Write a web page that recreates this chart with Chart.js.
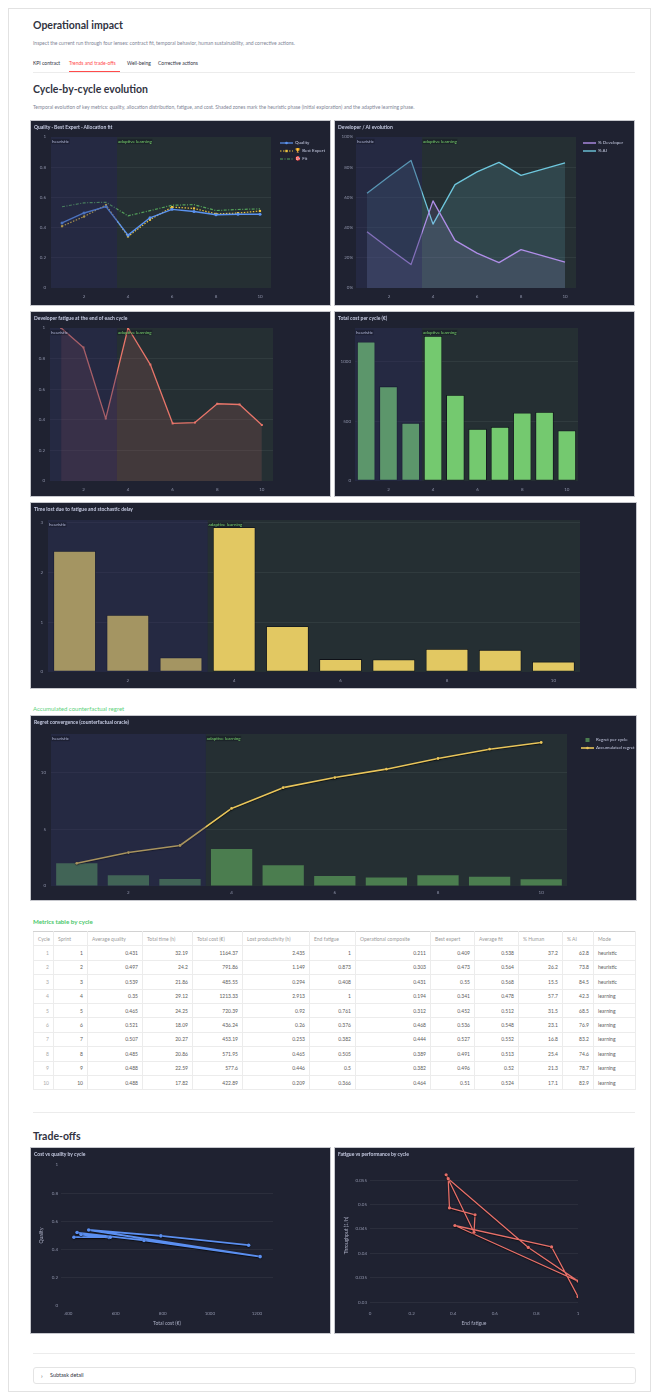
<!DOCTYPE html>
<html>
<head>
<meta charset="utf-8">
<script src="https://cdn.jsdelivr.net/npm/chart.js@4.4.1/dist/chart.umd.min.js"></script>
<style>
  body { margin: 0; background: #fff; font-family: Lato, "Noto Sans", sans-serif; }
  #page { position: relative; width: 658px; height: 1399px; overflow: hidden; }
  .frame { position: absolute; left: 8px; top: 8px; width: 641px; height: 1382px; border: 1px solid #e2e2e2; }
  .txt { position: absolute; white-space: nowrap; line-height: 1; color: #31333f; }
  .h1 { font-size: 10.5px; font-weight: 700; }
  .sub { font-size: 5px; color: #808495; }
  .tab { font-size: 5px; }
  .rule { position: absolute; height: 1px; background: #ececec; }
  .box { position: absolute; background: #1f2231; box-shadow: 0 0 0 1px #c6c7cd; }
  .box canvas { position: absolute; left: 0; top: 0; }
  .ctitle { position: absolute; left: 3px; top: 4px; font-size: 5px; font-weight: 700; color: #c6cbe2; white-space: nowrap; line-height: 1; }
  .legend { position: absolute; font-size: 4.5px; color: #c6cbe2; line-height: 1; }
  .legend div { height: 8px; display: flex; align-items: center; white-space: nowrap; }
  .legend svg { margin-right: 2px; }
  #metrics { position: absolute; left: 33px; top: 931px; width: 602px; border-collapse: collapse; table-layout: fixed; font-size: 5px; color: #5c5c5c; }
  #metrics th, #metrics td { border: 1px solid #ececec; padding: 0 4px; overflow: hidden; white-space: nowrap; }
  #metrics th { font-weight: 400; color: #9a9a9a; text-align: left; border-top: 1.5px solid #d2d2d2; }
  #metrics tr { height: 14.4px; }
  #metrics td { text-align: right; }
  #metrics td.idx { color: #aaa; }
  #metrics td.mode { text-align: left; }
  .expander { position: absolute; left: 33px; top: 1367px; width: 601px; height: 15px; border: 1px solid #e4e4e4; border-radius: 3px; }
</style>
</head>
<body>
<div id="page">
  <div class="frame"></div>

  <div class="txt h1" style="left:33px;top:20px;">Operational impact</div>
  <div class="txt sub" style="left:33px;top:41px;">Inspect the current run through four lenses: contract fit, temporal behavior, human sustainability, and corrective actions.</div>
  <div class="txt tab" style="left:33px;top:60.5px;">KPI contract</div>
  <div class="txt tab" style="left:69px;top:60.5px;color:#ff4b4b;">Trends and trade-offs</div>
  <div class="txt tab" style="left:127px;top:60.5px;">Well-being</div>
  <div class="txt tab" style="left:158px;top:60.5px;">Corrective actions</div>
  <div class="rule" style="left:33px;top:72px;width:602px;"></div>
  <div class="rule" style="left:69px;top:70.5px;width:51px;height:1.5px;background:#ff4b4b;"></div>

  <div class="txt h1" style="left:33px;top:84px;">Cycle-by-cycle evolution</div>
  <div class="txt sub" style="left:33px;top:105px;">Temporal evolution of key metrics: quality, allocation distribution, fatigue, and cost. Shaded zones mark the heuristic phase (initial exploration) and the adaptive learning phase.</div>

  <div class="box" style="left:31px;top:121px;width:299px;height:184px;">
    <canvas id="cQuality" width="299" height="184"></canvas>
    <div class="ctitle">Quality · Best Expert · Allocation fit</div>
    <div class="legend" style="left:249px;top:18px;">
      <div><svg width="13" height="4"><line x1="0" y1="2" x2="13" y2="2" stroke="#5b93f0" stroke-width="1.2"/><circle cx="6.5" cy="2" r="1.3" fill="#5b93f0"/></svg>Quality</div>
      <div><svg width="13" height="4"><line x1="0" y1="2" x2="13" y2="2" stroke="#e9c23f" stroke-width="1.2" stroke-dasharray="1.5 1.5"/><rect x="5.3" y="0.8" width="2.4" height="2.4" fill="#e9c23f"/></svg>🏆 Best Expert</div>
      <div><svg width="13" height="4"><line x1="0" y1="2" x2="13" y2="2" stroke="#55a35a" stroke-width="1.2" stroke-dasharray="3 1.5 1 1.5"/></svg>🎯 Fit</div>
    </div>
  </div>

  <div class="box" style="left:335px;top:121px;width:299px;height:184px;">
    <canvas id="cShare" width="299" height="184"></canvas>
    <div class="ctitle">Developer / AI evolution</div>
    <div class="legend" style="left:248px;top:18px;">
      <div><svg width="13" height="4"><line x1="0" y1="2" x2="13" y2="2" stroke="#b08ee8" stroke-width="1.4"/></svg>% Developer</div>
      <div><svg width="13" height="4"><line x1="0" y1="2" x2="13" y2="2" stroke="#6fc8de" stroke-width="1.4"/></svg>% AI</div>
    </div>
  </div>

  <div class="box" style="left:31px;top:312px;width:299px;height:184px;">
    <canvas id="cFatigue" width="299" height="184"></canvas>
    <div class="ctitle">Developer fatigue at the end of each cycle</div>
  </div>

  <div class="box" style="left:335px;top:312px;width:299px;height:184px;">
    <canvas id="cCost" width="299" height="184"></canvas>
    <div class="ctitle">Total cost per cycle (€)</div>
  </div>

  <div class="box" style="left:31px;top:503px;width:605px;height:185px;">
    <canvas id="cLost" width="605" height="185"></canvas>
    <div class="ctitle">Time lost due to fatigue and stochastic delay</div>
  </div>

  <div class="txt" style="left:33px;top:706px;font-size:6px;color:#5cd27c;">Accumulated counterfactual regret</div>

  <div class="box" style="left:31px;top:716px;width:605px;height:184px;">
    <canvas id="cRegret" width="605" height="184"></canvas>
    <div class="ctitle">Regret convergence (counterfactual oracle)</div>
    <div class="legend" style="left:550px;top:20px;">
      <div><svg width="13" height="4"><rect x="4.5" y="0" width="4" height="4" fill="#4b7d4f"/></svg>Regret per cycle</div>
      <div><svg width="13" height="4"><line x1="0" y1="2" x2="13" y2="2" stroke="#e9c65c" stroke-width="1.6"/><circle cx="6.5" cy="2" r="1.3" fill="#e9c65c"/></svg>Accumulated regret</div>
    </div>
  </div>

  <div class="txt" style="left:33px;top:919px;font-size:6.2px;font-weight:700;color:#4cc86c;">Metrics table by cycle</div>
  <table id="metrics"></table>

  <div class="rule" style="left:33px;top:1112px;width:602px;"></div>
  <div class="txt h1" style="left:33px;top:1131px;">Trade-offs</div>

  <div class="box" style="left:31px;top:1148px;width:299px;height:185px;">
    <canvas id="cCostQuality" width="299" height="185"></canvas>
    <div class="ctitle">Cost vs quality by cycle</div>
  </div>

  <div class="box" style="left:335px;top:1148px;width:299px;height:185px;">
    <canvas id="cFatiguePerf" width="299" height="185"></canvas>
    <div class="ctitle">Fatigue vs performance by cycle</div>
  </div>

  <div class="rule" style="left:33px;top:1353px;width:602px;"></div>
  <div class="expander">
    <div class="txt" style="left:7px;top:4.5px;font-size:6px;color:#555;">›</div>
    <div class="txt" style="left:16px;top:5px;font-size:5.5px;">Subtask detail</div>
  </div>
</div>

<script>
// values per cycle, as shown in the metrics table
const cycles = [1, 2, 3, 4, 5, 6, 7, 8, 9, 10];
const sprints = [1, 2, 3, 4, 5, 6, 7, 8, 9, 10];
const avgQuality = [0.431, 0.497, 0.539, 0.35, 0.465, 0.521, 0.507, 0.485, 0.488, 0.488];
const totalTime = [32.19, 24.2, 21.86, 29.12, 24.25, 18.09, 20.27, 20.86, 22.59, 17.82];
const totalCost = [1164.37, 791.86, 485.55, 1213.33, 720.39, 436.24, 453.19, 571.95, 577.6, 422.89];
const lostProductivity = [2.435, 1.149, 0.294, 2.913, 0.92, 0.26, 0.253, 0.465, 0.446, 0.209];
const endFatigue = [1, 0.873, 0.408, 1, 0.761, 0.376, 0.382, 0.505, 0.5, 0.366];
const operationalComposite = [0.211, 0.303, 0.431, 0.194, 0.312, 0.468, 0.444, 0.389, 0.382, 0.464];
const bestExpert = [0.409, 0.473, 0.55, 0.341, 0.452, 0.536, 0.527, 0.491, 0.496, 0.51];
const averageFit = [0.538, 0.564, 0.568, 0.478, 0.512, 0.548, 0.552, 0.513, 0.52, 0.524];
const pctHuman = [37.2, 26.2, 15.5, 57.7, 31.5, 23.1, 16.8, 25.4, 21.3, 17.1];
const pctAI = [62.8, 73.8, 84.5, 42.3, 68.5, 76.9, 83.2, 74.6, 78.7, 82.9];
const modes = ['heuristic', 'heuristic', 'heuristic', 'learning', 'learning', 'learning', 'learning', 'learning', 'learning', 'learning'];

const regretPerCycle = [2.0, 0.95, 0.62, 3.27, 1.83, 0.89, 0.74, 0.94, 0.82, 0.59];
const accumulatedRegret = [2.0, 2.95, 3.57, 6.84, 8.67, 9.56, 10.3, 11.24, 12.06, 12.65];
const throughput = [0.0311, 0.0413, 0.0457, 0.0343, 0.0412, 0.0553, 0.0493, 0.0479, 0.0443, 0.0561];

// tick labels
const cycleTicks = [2, 4, 6, 8, 10];
const unitTicks = [0, 0.2, 0.4, 0.6, 0.8, 1];
const shareTicks = [0, 20, 40, 60, 80, 100];
const costTicks = [0, 500, 1000];
const lostTicks = [0, 1, 2, 3];
const regretTicks = [0, 5, 10];
const costAxisTicks = [400, 600, 800, 1000, 1200];
const throughputTicks = [0.03, 0.035, 0.04, 0.045, 0.05, 0.055];

const tableColumns = ['Cycle', 'Sprint', 'Average quality', 'Total time (h)', 'Total cost (€)', 'Lost productivity (h)', 'End fatigue', 'Operational composite', 'Best expert', 'Average fit', '% Human', '% AI', 'Mode'];
const heuristicEnd = 3.5;

Chart.defaults.font.family = 'Lato, "Noto Sans", sans-serif';
const tickColor = '#8d92a8';
const gridColor = 'rgba(255,255,255,0.07)';

const pts = (xs, ys) => xs.map((x, i) => ({ x: x, y: ys[i] }));

// shaded phase zones, heuristic zone is laid over the marks like the original
const phaseBands = {
  id: 'phaseBands',
  beforeDraw(chart, args, opts) {
    if (!opts.enabled) return;
    const { ctx, chartArea: a } = chart;
    const sx = chart.scales.x.getPixelForValue(heuristicEnd);
    ctx.save();
    ctx.fillStyle = 'rgba(80,140,70,0.13)';
    ctx.fillRect(sx, a.top, a.right - sx, a.bottom - a.top);
    ctx.restore();
  },
  afterDatasetsDraw(chart, args, opts) {
    if (!opts.enabled) return;
    const { ctx, chartArea: a } = chart;
    const sx = chart.scales.x.getPixelForValue(heuristicEnd);
    ctx.save();
    ctx.fillStyle = 'rgba(50,55,100,0.35)';
    ctx.fillRect(a.left, a.top, sx - a.left, a.bottom - a.top);
    ctx.font = '4.5px Lato, "Noto Sans", sans-serif';
    ctx.textBaseline = 'middle';
    const label = (txt, x, color) => {
      const w = ctx.measureText(txt).width;
      const y = a.top + 4.5;
      ctx.fillStyle = 'rgba(15,17,26,0.35)';
      ctx.fillRect(x - 0.5, y - 2.6, w + 1, 5.2);
      ctx.fillStyle = color;
      ctx.fillText(txt, x, y);
    };
    label('heuristic', a.left + 1, '#b3b9d8');
    label('adaptive learning', sx + 1, '#78d46c');
    ctx.restore();
  }
};

// dark edge under the thicker lines
const lineEdge = {
  id: 'lineEdge',
  beforeDatasetDraw(chart, args) {
    if (!args.meta.dataset || !chart.data.datasets[args.index].edge) return;
    const ctx = chart.ctx;
    ctx.save();
    ctx.shadowColor = 'rgba(0,0,0,0.85)';
    ctx.shadowBlur = 1.2;
    ctx.shadowOffsetY = 0.6;
  },
  afterDatasetDraw(chart, args) {
    if (!args.meta.dataset || !chart.data.datasets[args.index].edge) return;
    chart.ctx.restore();
  }
};

function gridNoEdges(ctx) {
  const s = ctx.scale;
  if (!ctx.tick) return gridColor;
  const v = ctx.tick.value;
  return (Math.abs(v - s.min) < 1e-9 || Math.abs(v - s.max) < 1e-9) ? 'rgba(0,0,0,0)' : gridColor;
}

function buildChart(id, spec) {
  return new Chart(document.getElementById(id), {
    type: spec.type,
    data: { datasets: spec.datasets },
    options: {
      responsive: false,
      animation: false,
      devicePixelRatio: 1,
      layout: { padding: { left: 0, right: spec.right, top: spec.top, bottom: 0 } },
      plugins: {
        legend: { display: false },
        tooltip: { enabled: false },
        phaseBands: { enabled: spec.bands !== false }
      },
      scales: {
        x: {
          type: 'linear',
          min: spec.xMin, max: spec.xMax,
          offset: false,
          grid: { display: false, drawTicks: false },
          border: { display: false },
          ticks: { color: tickColor, font: { size: 4.5 }, padding: spec.xPad || 5.5, maxRotation: 0, autoSkip: false, callback: v => String(v) },
          title: spec.xTitle
            ? { display: true, text: spec.xTitle, color: '#a9adc2', font: { size: 5 }, padding: { top: 7, bottom: 7 } }
            : { display: false },
          afterBuildTicks: s => { s.ticks = spec.xTicks.map(v => ({ value: v })); },
          afterFit: s => { s.height = spec.xHeight; }
        },
        y: {
          type: 'linear',
          min: spec.yMin, max: spec.yMax,
          grid: { color: gridNoEdges, drawTicks: false, lineWidth: 0.8 },
          border: { display: false },
          ticks: { color: tickColor, font: { size: 4.5 }, padding: spec.yPad || 5, callback: spec.yFmt || (v => String(v)) },
          title: spec.yTitle
            ? { display: true, text: spec.yTitle, color: '#a9adc2', font: { size: 5 }, padding: { top: spec.yTitlePad, bottom: 0 } }
            : { display: false },
          afterBuildTicks: s => { s.ticks = spec.yTicks.map(v => ({ value: v })); },
          afterFit: s => { s.width = spec.yWidth; }
        }
      }
    },
    plugins: [phaseBands, lineEdge]
  });
}

const lineBase = { tension: 0, borderJoinStyle: 'round' };

buildChart('cQuality', {
  type: 'line', right: 59, top: 16, xHeight: 17, yWidth: 20,
  xMin: 0.5, xMax: 10.5, xTicks: cycleTicks, yMin: 0, yMax: 1, yTicks: unitTicks,
  datasets: [
    { ...lineBase, label: 'Quality', data: pts(cycles, avgQuality), borderColor: '#5b93f0', borderWidth: 1.4, pointRadius: 1.5, pointBackgroundColor: '#5b93f0', pointBorderWidth: 0 },
    { ...lineBase, label: '🏆 Best Expert', data: pts(cycles, bestExpert), borderColor: '#e9c23f', borderWidth: 1.2, borderDash: [1.5, 1.5], pointStyle: 'rect', pointRadius: 1.5, pointBackgroundColor: '#e9c23f', pointBorderWidth: 0 },
    { ...lineBase, label: '🎯 Fit', data: pts(cycles, averageFit), borderColor: '#55a35a', borderWidth: 1.2, borderDash: [3, 1.5, 1, 1.5], pointRadius: 0 }
  ]
});

buildChart('cShare', {
  type: 'line', right: 58, top: 16, xHeight: 17, yWidth: 21, yPad: 3,
  xMin: 0.5, xMax: 10.5, xTicks: cycleTicks, yMin: 0, yMax: 100, yTicks: shareTicks,
  yFmt: v => v + '%',
  datasets: [
    { ...lineBase, label: '% Developer', data: pts(cycles, pctHuman), borderColor: '#b08ee8', borderWidth: 1.3, pointRadius: 0, fill: 'origin', backgroundColor: 'rgba(176,142,232,0.13)' },
    { ...lineBase, label: '% AI', data: pts(cycles, pctAI), borderColor: '#6fc8de', borderWidth: 1.3, pointRadius: 0, fill: 'origin', backgroundColor: 'rgba(111,200,222,0.15)' }
  ]
});

buildChart('cFatigue', {
  type: 'line', right: 57, top: 16, xHeight: 15, yWidth: 19,
  xMin: 0.5, xMax: 10.5, xTicks: cycleTicks, yMin: 0, yMax: 1, yTicks: unitTicks,
  datasets: [
    { ...lineBase, label: 'End fatigue', data: pts(cycles, endFatigue), borderColor: '#e8756a', borderWidth: 1.3, pointStyle: 'rect', pointRadius: 1.4, pointBackgroundColor: '#e8756a', pointBorderWidth: 0, fill: 'origin', backgroundColor: 'rgba(232,117,106,0.15)' }
  ]
});

buildChart('cCost', {
  type: 'bar', right: 56, top: 16, xHeight: 15, yWidth: 20, yPad: 4,
  xMin: 0.5, xMax: 10.5, xTicks: cycleTicks, yMin: 0, yMax: 1280, yTicks: costTicks,
  datasets: [
    { label: 'Total cost (€)', data: pts(cycles, totalCost), backgroundColor: '#74c96f', borderColor: '#0e1017', borderWidth: 0.8, borderSkipped: false, barPercentage: 0.82, categoryPercentage: 1 }
  ]
});

buildChart('cLost', {
  type: 'bar', right: 56, top: 17, xHeight: 16, yWidth: 17,
  xMin: 0.5, xMax: 10.5, xTicks: cycleTicks, yMin: 0, yMax: 3.06, yTicks: lostTicks,
  datasets: [
    { label: 'Lost productivity (h)', data: pts(cycles, lostProductivity), backgroundColor: '#e2c862', borderColor: '#0e1017', borderWidth: 0.8, borderSkipped: false, barPercentage: 0.8, categoryPercentage: 1 }
  ]
});

buildChart('cRegret', {
  type: 'bar', right: 69, top: 18, xHeight: 14, yWidth: 20, xPad: 4,
  xMin: 0.5, xMax: 10.5, xTicks: cycleTicks, yMin: 0, yMax: 13.4, yTicks: regretTicks,
  datasets: [
    { type: 'line', ...lineBase, edge: true, label: 'Accumulated regret', data: pts(cycles, accumulatedRegret), borderColor: '#e9c65c', borderWidth: 1.6, pointRadius: 1.4, pointBackgroundColor: '#e9c65c', pointBorderWidth: 0 },
    { label: 'Regret per cycle', data: pts(cycles, regretPerCycle), backgroundColor: '#4b7d4f', barPercentage: 0.8, categoryPercentage: 1 }
  ]
});

buildChart('cCostQuality', {
  type: 'line', bands: false, right: 57, top: 17, xHeight: 27, yWidth: 30, yPad: 3, xPad: 4.5,
  xMin: 368, xMax: 1268, xTicks: costAxisTicks, xTitle: 'Total cost (€)',
  yMin: 0, yMax: 1, yTicks: unitTicks, yTitle: 'Quality', yTitlePad: 7,
  datasets: [
    { ...lineBase, edge: true, label: 'Cost vs quality', data: pts(totalCost, avgQuality), borderColor: '#5b8ff0', borderWidth: 1.8, pointRadius: 1.8, pointBackgroundColor: '#5b8ff0', pointBorderWidth: 0 }
  ]
});

buildChart('cFatiguePerf', {
  type: 'line', bands: false, right: 56, top: 17, xHeight: 27, yWidth: 35, yPad: 3, xPad: 4.5,
  xMin: 0, xMax: 1, xTicks: unitTicks, xTitle: 'End fatigue',
  yMin: 0.0292, yMax: 0.0581, yTicks: throughputTicks, yTitle: 'Throughput (1/h)', yTitlePad: 8,
  datasets: [
    { ...lineBase, edge: true, label: 'Fatigue vs performance', data: pts(endFatigue, throughput), borderColor: '#e6706a', borderWidth: 1.3, pointRadius: 1.6, pointBackgroundColor: '#e6706a', pointBorderWidth: 0 }
  ]
});

// metrics table
const colWidths = [20, 34, 55, 50, 50, 67, 46, 75, 44, 44, 44, 31, 42];
const table = document.getElementById('metrics');
let html = '<colgroup>' + colWidths.map(w => '<col style="width:' + w + 'px">').join('') + '</colgroup>';
html += '<thead><tr>' + tableColumns.map(c => '<th>' + c + '</th>').join('') + '</tr></thead><tbody>';
cycles.forEach((c, i) => {
  const row = [sprints[i], avgQuality[i], totalTime[i], totalCost[i], lostProductivity[i], endFatigue[i],
    operationalComposite[i], bestExpert[i], averageFit[i], pctHuman[i], pctAI[i]];
  html += '<tr><td class="idx">' + c + '</td>' + row.map(v => '<td>' + v + '</td>').join('') +
    '<td class="mode">' + modes[i] + '</td></tr>';
});
html += '</tbody>';
table.innerHTML = html;
</script>
</body>
</html>
